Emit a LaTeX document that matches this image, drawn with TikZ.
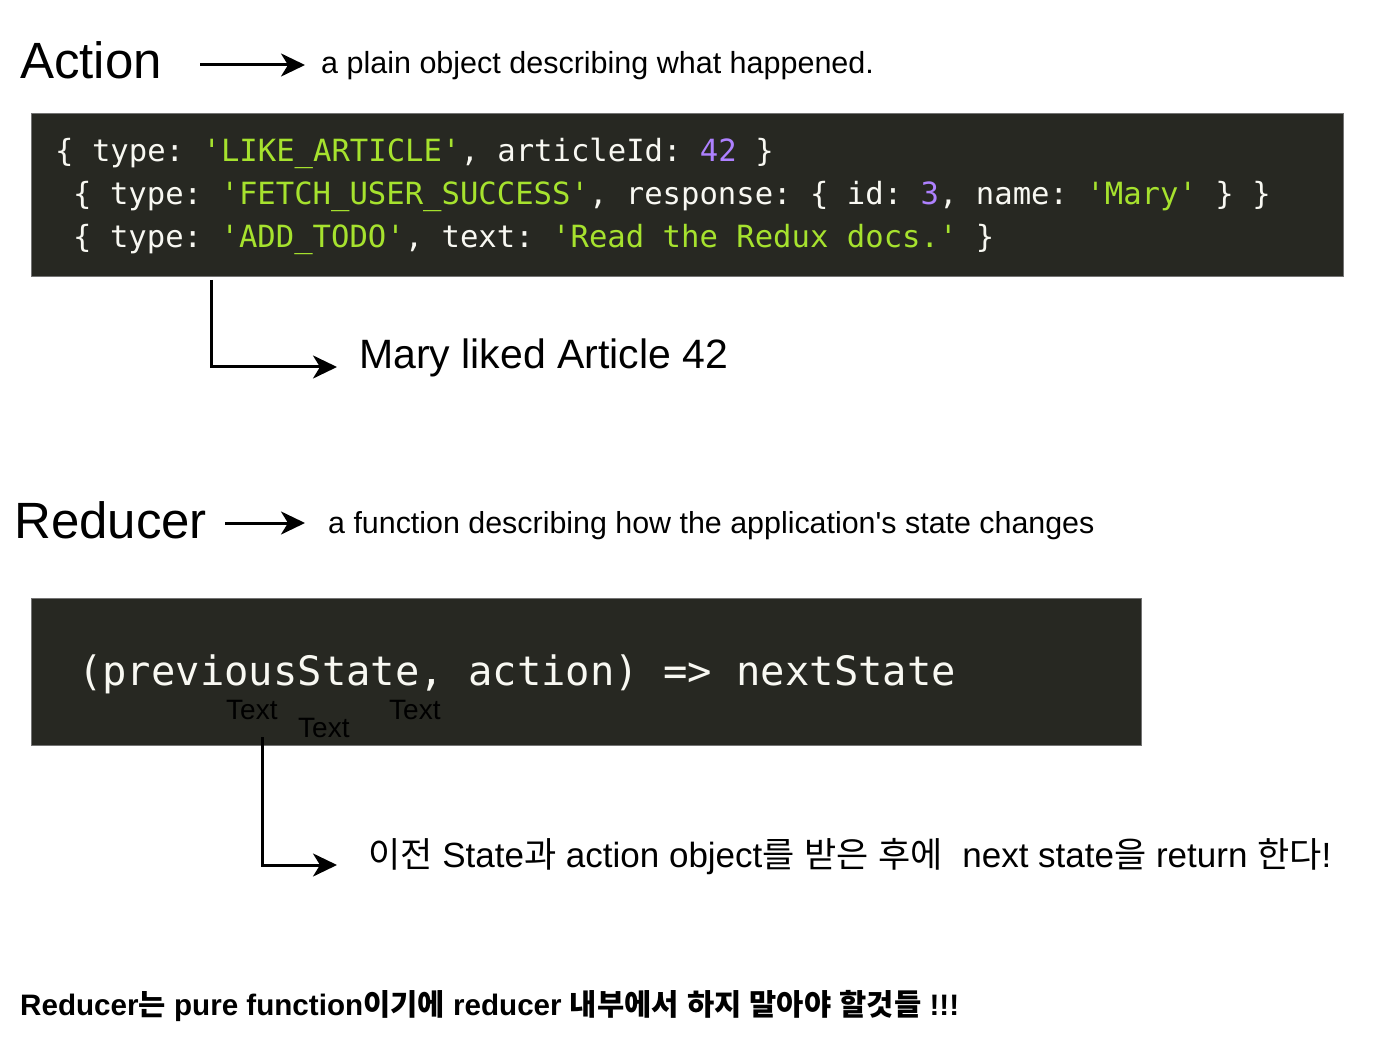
\documentclass[tikz,border=0pt]{standalone}
\usepackage{fontspec}
\setmainfont{Liberation Sans}
\newfontfamily\kr{Noto Sans CJK KR}
\newfontfamily\codefont{DejaVu Sans Mono}
\usetikzlibrary{arrows.meta}
\definecolor{monobg}{HTML}{272822}
\definecolor{monofg}{HTML}{F8F8F2}
\definecolor{monostr}{HTML}{A6E22E}
\definecolor{mononum}{HTML}{AE81FF}
\newcommand{\myfs}[1]{\fontsize{#1}{#1}\selectfont}
\newcommand{\strc}[1]{\textcolor{monostr}{#1}}
\newcommand{\numc}[1]{\textcolor{mononum}{#1}}
\begin{document}
\frenchspacing
\begin{tikzpicture}[x=1pt,y=-1pt,
  lbl/.style={inner sep=0pt, anchor=base west, text=black},
  codebox/.style={fill=monobg, draw=black!55, line width=0.8pt, inner sep=0pt, anchor=north west},
  codeline/.style={inner sep=0pt, anchor=base west, text=monofg},
  arr/.style={line width=3pt, draw=black, -{Stealth[length=24pt,width=23pt,inset=7pt]}},
  elbow/.style={line width=3pt, draw=black, -{Stealth[length=24pt,width=23pt,inset=7pt]}}
]
\fill[white] (0,0) rectangle (1392,1040);
\useasboundingbox (0,0) rectangle (1392,1040);

% ---- Action ----
\node[lbl, font=\myfs{51}] (action) at (20,79) {Action};
\node[lbl, font=\myfs{30.5}] (d1) at (321,74) {a plain object describing what happened.};
\coordinate (a1) at (200,65);
\draw[arr, shorten >=16pt] (a1) -- (a1 -| d1.west);

\node[codebox, minimum width=1312pt, minimum height=163pt] (code1) at (31,113) {};
\node[codeline, font=\codefont\frenchspacing\myfs{30.6}] (c1) at (55,162)
  {\{ type: \strc{'LIKE\_ARTICLE'}, articleId: \numc{42} \}};
\node[codeline, font=\codefont\frenchspacing\myfs{30.6}] (c2) at (73,205)
  {\{ type: \strc{'FETCH\_USER\_SUCCESS'}, response: \{ id: \numc{3}, name: \strc{'Mary'} \} \}};
\node[codeline, font=\codefont\frenchspacing\myfs{30.6}] (c3) at (73,248)
  {\{ type: \strc{'ADD\_TODO'}, text: \strc{'Read the Redux docs.'} \}};

\node[lbl, font=\myfs{41}] (mary) at (359,369) {Mary liked Article 42};
\coordinate (m1) at (211,280);
\coordinate (m1end) at (337,367);
\draw[elbow] (m1) |- (m1end);

% ---- Reducer ----
\node[lbl, font=\myfs{51}] (reducer) at (14,538) {Reducer};
\node[lbl, font=\myfs{30.4}] (d2) at (328,533) {a function describing how the application\textquotesingle s state changes};
\coordinate (a2) at (225,523);
\draw[arr, shorten >=23pt] (a2) -- (a2 -| d2.west);

\node[codebox, minimum width=1110pt, minimum height=147pt] (code2) at (31,598) {};
\node[codeline, font=\codefont\frenchspacing\myfs{40.5}] (c4) at (78,685) {(previousState, action) => nextState};

\node[lbl, font=\myfs{28}] (t1) at (226,719) {Text};
\node[lbl, font=\myfs{28}] (t2) at (298,737) {Text};
\node[lbl, font=\myfs{28}] (t3) at (389,719) {Text};

\node[lbl, font=\myfs{35}] (kor) at (368,867)
  {{\kr 이전} State{\kr 과} action object{\kr 를} {\kr 받은} {\kr 후에}\ \ next state{\kr 을} return {\kr 한다}!};
\coordinate (m2) at (262,737);
\coordinate (m2end) at (337,865);
\draw[elbow] (m2) |- (m2end);

% ---- footer ----
\node[lbl, font=\bfseries\myfs{29.6}] (foot) at (20,1015)
  {Reducer{\kr 는} pure function{\kr 이기에} reducer {\kr 내부에서} {\kr 하지} {\kr 말아야} {\kr 할것들} !!!};
\end{tikzpicture}
\end{document}
